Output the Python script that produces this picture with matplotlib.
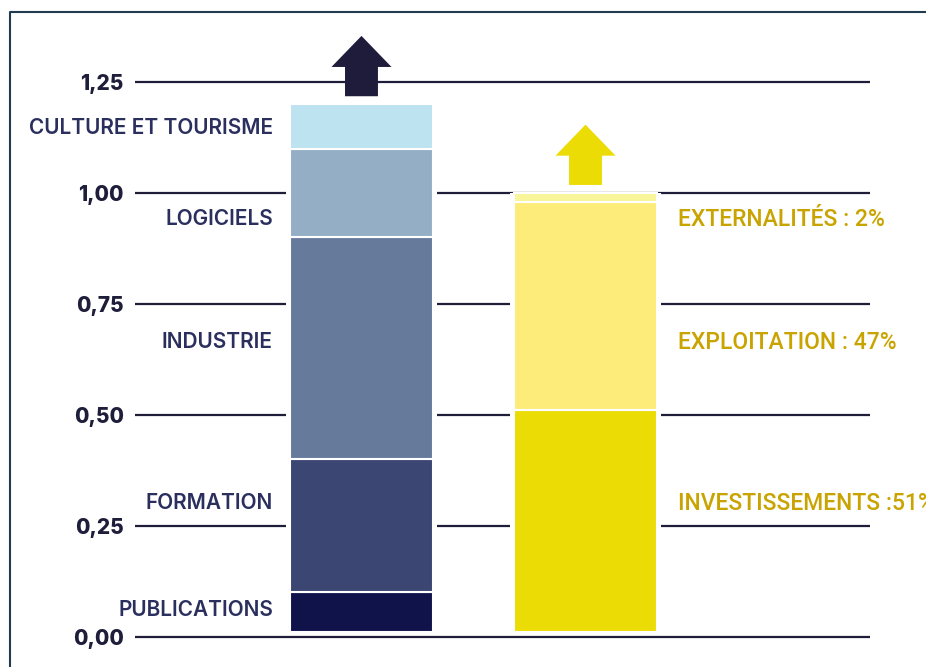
import numpy as np
import matplotlib.pyplot as plt
from matplotlib.lines import Line2D
from matplotlib.patches import FancyArrow

# left bar: secteurs (bottom -> top)
secteurs = ["PUBLICATIONS", "FORMATION", "INDUSTRIE", "LOGICIELS", "CULTURE ET TOURISME"]
secteur_vals = [0.10, 0.30, 0.50, 0.20, 0.10]
secteur_cols = ["#10134a", "#3b4672", "#667b9c", "#94afc5", "#bde2f0"]

# right bar: couts (bottom -> top)
couts = ["INVESTISSEMENTS :51%", "EXPLOITATION : 47%", "EXTERNALITÉS : 2%"]
cout_vals = [0.51, 0.47, 0.02]
cout_cols = ["#ecdc06", "#fdec7a", "#f8f59b"]

yticks = [0, 0.25, 0.5, 0.75, 1.0, 1.25]
ytick_labels = ["0,00", "0,25", "0,50", "0,75", "1,00", "1,25"]

# where the row labels sit
left_label_y = [0.060, 0.300, 0.663, 0.941, 1.147]
right_label_y = [0.300, 0.663, 0.941]

navy = "#1e1d3a"
gold = "#c9a400"
lift = 0.01   # bars float just above the zero line
bw = 0.638

fig = plt.figure(figsize=(9.26, 6.67), dpi=100)
ax = fig.add_axes([135 / 926, 8.3 / 667, 735 / 926, 643.2 / 667])
ax.set_xlim(-1.011, 2.270)
ax.set_ylim(-0.05, 1.40)

for y in yticks:
    ax.axhline(y, color=navy, lw=1.6, zorder=1)

def stack(x, vals, cols):
    total = sum(vals)
    # white pad so the grid stops short of the bar
    ax.bar(x, total - lift, bottom=lift, width=bw + 0.035, color="white", zorder=2)
    cum = 0
    for v, c in zip(vals, cols):
        lo = max(cum, lift)
        ax.bar(x, cum + v - lo, bottom=lo, width=bw, color=c, edgecolor="white", lw=1.5, zorder=3)
        cum += v
    return cum

top_l = stack(0, secteur_vals, secteur_cols)
top_r = stack(1, cout_vals, cout_cols)

for x, top, col in [(0, top_l, "#1f1b3b"), (1, top_r, "#ecdc06")]:
    ax.add_patch(FancyArrow(x, top + 0.018, 0, 0.136, width=0.147, head_width=0.268,
                            head_length=0.07, length_includes_head=True, color=col,
                            lw=0, zorder=4))

for lab, y in zip(secteurs, left_label_y):
    ax.text(-0.395, y, lab, ha="right", va="center", color="#2a2f5e",
            fontsize=15, family="Inter", fontweight="semibold")
for lab, y in zip(couts, right_label_y):
    ax.text(1.413, y, lab, ha="left", va="center", color=gold,
            fontsize=16.5, family="Roboto", fontweight="medium", clip_on=False)

ax.set_yticks(yticks)
ax.set_yticklabels(ytick_labels, fontsize=15, fontweight="heavy", family="Inter", color=navy)
ax.tick_params(axis="y", length=0, pad=8)
ax.set_xticks([])
for s in ax.spines.values():
    s.set_visible(False)

# frame around the figure
fig.add_artist(Line2D([10 / 926, 10 / 926, 1.0], [0.0, 1 - 12 / 667, 1 - 12 / 667],
                      color="#1f3b4d", lw=1.5))

fig.savefig("out.png", dpi=100)
